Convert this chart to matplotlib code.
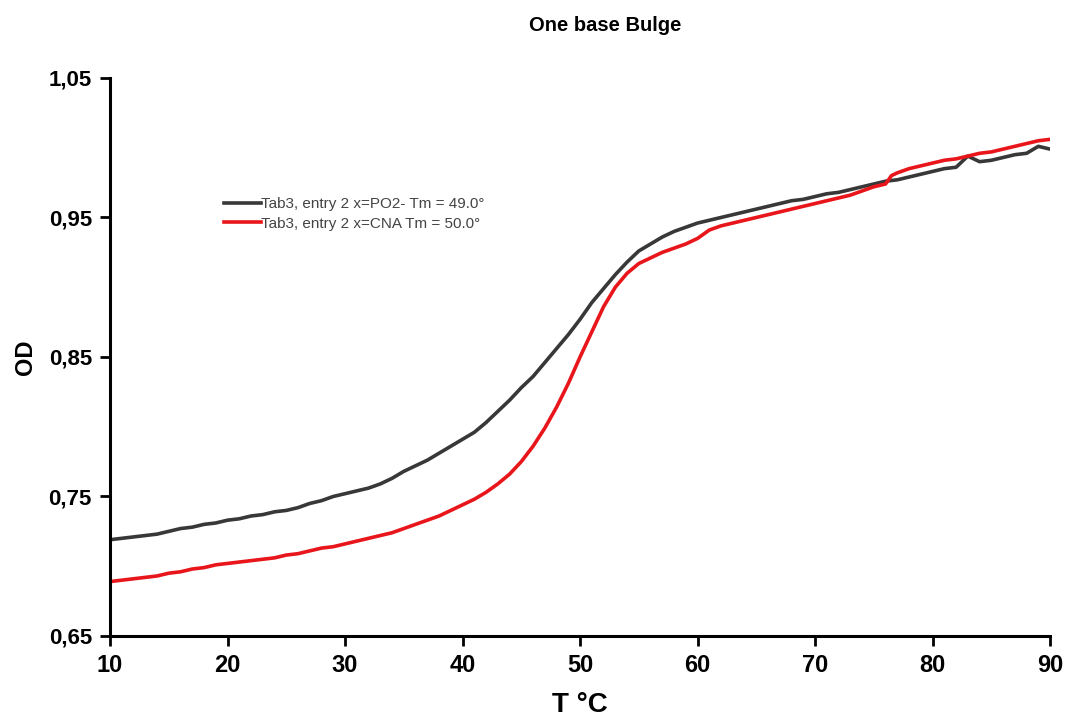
import matplotlib.pyplot as plt
from matplotlib.ticker import FixedLocator

plt.rcParams['font.family'] = ['Liberation Sans', 'DejaVu Sans']

# melting curves
temp_po2 = list(range(10, 91))
od_po2 = [0.719, 0.720, 0.721, 0.722, 0.723, 0.725, 0.727, 0.728, 0.730, 0.731,
          0.733, 0.734, 0.736, 0.737, 0.739, 0.740, 0.742, 0.745, 0.747, 0.750,
          0.752, 0.754, 0.756, 0.759, 0.763, 0.768, 0.772, 0.776, 0.781, 0.786,
          0.791, 0.796, 0.803, 0.811, 0.819, 0.828, 0.836, 0.846, 0.856, 0.866,
          0.877, 0.889, 0.899, 0.909, 0.918, 0.926, 0.931, 0.936, 0.940, 0.943,
          0.946, 0.948, 0.950, 0.952, 0.954, 0.956, 0.958, 0.960, 0.962, 0.963,
          0.965, 0.967, 0.968, 0.970, 0.972, 0.974, 0.976, 0.977, 0.979, 0.981,
          0.983, 0.985, 0.986, 0.994, 0.990, 0.991, 0.993, 0.995, 0.996, 1.001,
          0.999]

temp_cna = list(range(10, 77)) + [76.5] + list(range(77, 91))
od_cna = [0.689, 0.690, 0.691, 0.692, 0.693, 0.695, 0.696, 0.698, 0.699, 0.701,
          0.702, 0.703, 0.704, 0.705, 0.706, 0.708, 0.709, 0.711, 0.713, 0.714,
          0.716, 0.718, 0.720, 0.722, 0.724, 0.727, 0.730, 0.733, 0.736, 0.740,
          0.744, 0.748, 0.753, 0.759, 0.766, 0.775, 0.786, 0.799, 0.814, 0.831,
          0.850, 0.868, 0.886, 0.900, 0.910, 0.917, 0.921, 0.925, 0.928, 0.931,
          0.935, 0.941, 0.944, 0.946, 0.948, 0.950, 0.952, 0.954, 0.956, 0.958,
          0.960, 0.962, 0.964, 0.966, 0.969, 0.972, 0.974, 0.980,
          0.982, 0.985, 0.987, 0.989, 0.991, 0.992, 0.994, 0.996, 0.997, 0.999,
          1.001, 1.003, 1.005, 1.006]

labels = ['Tab3, entry 2 x=PO2- Tm = 49.0°', 'Tab3, entry 2 x=CNA Tm = 50.0°']
x_ticks = [10, 20, 30, 40, 50, 60, 70, 80, 90]
y_ticks = [0.65, 0.75, 0.85, 0.95, 1.05]
y_ticklabels = ['0,65', '0,75', '0,85', '0,95', '1,05']

fig = plt.figure(figsize=(10.65, 7.2), dpi=100)
ax = fig.add_axes([0.1033, 0.1167, 0.8827, 0.775])

ax.plot(temp_po2, od_po2, color='#383838', lw=2.6, label=labels[0])
ax.plot(temp_cna, od_cna, color='#e8161b', lw=2.6, label=labels[1])

ax.set_xlim(10, 90)
ax.set_ylim(0.65, 1.05)
ax.xaxis.set_major_locator(FixedLocator(x_ticks))
ax.set_yticks(y_ticks)
ax.set_yticklabels(y_ticklabels)

for s in ['top', 'right']:
    ax.spines[s].set_visible(False)
for s in ['left', 'bottom']:
    ax.spines[s].set_linewidth(2.2)
ax.tick_params(direction='out', length=7, width=2)
ax.tick_params(axis='x', labelsize=17, pad=6)
ax.tick_params(axis='y', labelsize=16, pad=6)
for t in ax.get_xticklabels() + ax.get_yticklabels():
    t.set_fontweight('bold')

ax.set_xlabel('T °C', fontsize=20, fontweight='bold', labelpad=11)
ax.set_ylabel('OD', fontsize=17, fontweight='bold', labelpad=8)
fig.text(0.568, 0.964, 'One base Bulge', ha='center', va='center',
         fontsize=14.5, fontweight='bold')

leg = ax.legend(loc='upper left', bbox_to_anchor=(0.1147, 0.797), frameon=False,
                fontsize=11, handlelength=2.4, handletextpad=0.05,
                labelspacing=0.35, borderaxespad=0)
for t in leg.get_texts():
    t.set_color('#444444')

fig.savefig('out.png', dpi=100)
